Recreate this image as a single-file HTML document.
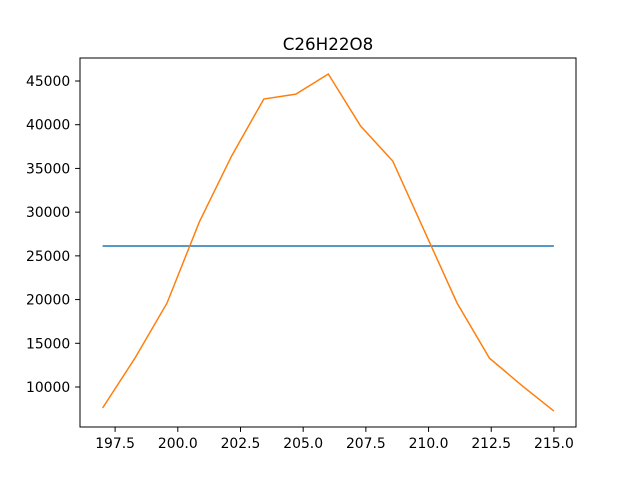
<!DOCTYPE html>
<html><head><meta charset="utf-8"><style>
body{margin:0;background:#fff;}
svg text{font-family:"DejaVu Sans","Liberation Sans",sans-serif;}
</style></head><body>
<svg id="chart" width="640" height="480" xmlns="http://www.w3.org/2000/svg">
<rect width="640" height="480" fill="#fff"/>
<text x="328" y="50" font-size="16.7" text-anchor="middle">C26H22O8</text>
<g id="marks"></g>
<g id="axes"></g>
<rect x="80" y="58" width="496" height="369" fill="none" stroke="#000" stroke-width="1"/>
</svg>
<script>
const xValues=[197,198.29,199.57,200.86,202.14,203.43,204.71,206,207.29,208.57,209.86,211.14,212.43,213.71,215];
const orangeValues=[7600,13300,19600,28900,36400,42940,43500,45800,39850,35850,27700,19600,13300,10200,7250];
const blueValues=[26130,26130];
const blueX=[197,215];
const xTicks=[197.5,200.0,202.5,205.0,207.5,210.0,212.5,215.0];
const yTicks=[10000,15000,20000,25000,30000,35000,40000,45000];
const xMin=196.1,xMax=215.88,yMin=5426,yMax=47630;
const L=80,R=576,T=58,B=427;
function sx(v){return L+(v-xMin)/(xMax-xMin)*(R-L);}
function sy(v){return B-(v-yMin)/(yMax-yMin)*(B-T);}
const NS="http://www.w3.org/2000/svg";
const marks=document.getElementById('marks'),axes=document.getElementById('axes');
function line(pts,color,name){
  const p=document.createElementNS(NS,'polyline');
  p.setAttribute('points',pts.map(q=>q[0].toFixed(1)+','+q[1].toFixed(1)).join(' '));
  p.setAttribute('fill','none');p.setAttribute('stroke',color);p.setAttribute('stroke-width','1.5');
  
  
  marks.appendChild(p);
}
line(blueX.map((x,i)=>[sx(x),sy(blueValues[i])]),'#1f77b4','blue-series-line');
line(xValues.map((x,i)=>[sx(x),sy(orangeValues[i])]),'#ff7f0e','orange-series-line');
xTicks.forEach(t=>{
  const x=sx(t);
  const l=document.createElementNS(NS,'line');
  l.setAttribute('x1',x);l.setAttribute('x2',x);l.setAttribute('y1',B);l.setAttribute('y2',B+4.9);l.setAttribute('stroke','#000');
  
  
  axes.appendChild(l);
  const tx=document.createElementNS(NS,'text');
  tx.setAttribute('x',x);tx.setAttribute('y',B+21);tx.setAttribute('font-size','13.9');tx.setAttribute('text-anchor','middle');
  tx.textContent=t.toFixed(1);
  
  
  axes.appendChild(tx);
});
yTicks.forEach(t=>{
  const y=sy(t);
  const l=document.createElementNS(NS,'line');
  l.setAttribute('x1',L-4.9);l.setAttribute('x2',L);l.setAttribute('y1',y);l.setAttribute('y2',y);l.setAttribute('stroke','#000');
  
  
  axes.appendChild(l);
  const tx=document.createElementNS(NS,'text');
  tx.setAttribute('x',L-9.8);tx.setAttribute('y',y+5);tx.setAttribute('font-size','13.9');tx.setAttribute('text-anchor','end');
  tx.textContent=String(t);
  
  
  axes.appendChild(tx);
});
</script>
</body></html>
